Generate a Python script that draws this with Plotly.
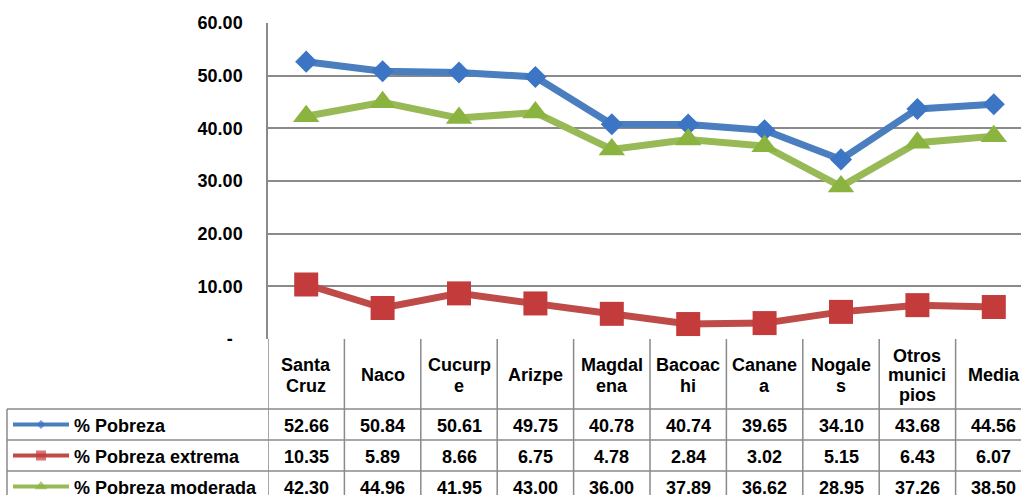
import plotly.graph_objects as go

# ---------------- data ----------------
categories = ["Santa Cruz", "Naco", "Cucurpe", "Arizpe", "Magdalena", "Bacoachi",
              "Cananea", "Nogales", "Otros municipios", "Media"]
header_lines = [["Santa", "Cruz"], ["Naco"], ["Cucurp", "e"], ["Arizpe"], ["Magdal", "ena"],
                ["Bacoac", "hi"], ["Canane", "a"], ["Nogale", "s"], ["Otros", "munici", "pios"],
                ["Media"]]
pobreza = [52.66, 50.84, 50.61, 49.75, 40.78, 40.74, 39.65, 34.10, 43.68, 44.56]
pobreza_extrema = [10.35, 5.89, 8.66, 6.75, 4.78, 2.84, 3.02, 5.15, 6.43, 6.07]
pobreza_moderada = [42.30, 44.96, 41.95, 43.00, 36.00, 37.89, 36.62, 28.95, 37.26, 38.50]
series_names = ["% Pobreza", "% Pobreza extrema", "% Pobreza moderada"]
y_tickvals = [0, 10, 20, 30, 40, 50, 60]
y_ticktext = ["-\u00a0\u00a0", "10.00", "20.00", "30.00", "40.00", "50.00", "60.00"]

# ---------------- layout geometry (pixels) ----------------
W, H = 1021, 495
PLOT_L = 268
PLOT_TOP, PLOT_BOT = 23, 339
COL_W = 76.4
ROW_TOPS = [409, 440, 471, 502]
HEADER_C = 375
LEG_L = 7

FONT = "Liberation Sans, Arial, sans-serif"
GRID = "#8a8a8a"

def py(p):  # pixel y -> paper y
    return (H - p) / H

series = [pobreza, pobreza_extrema, pobreza_moderada]
line_colors = ["#4A7EBE", "#BE4B48", "#98BA56"]
marker_colors = ["#3B75C4", "#C33B3B", "#8BB33F"]
symbols = ["diamond", "square", "triangle-up"]
sizes = [17, 24, 23]
key_sizes = [7, 10, 11]

fig = go.Figure()

for vals, name, lc, mc, sym, sz in zip(series, series_names, line_colors, marker_colors, symbols, sizes):
    fig.add_trace(go.Scatter(
        x=categories, y=vals, name=name, mode="lines+markers",
        line=dict(color=lc, width=7),
        marker=dict(symbol=sym, size=sz, color=mc, line=dict(width=0)),
        showlegend=False, cliponaxis=False, xaxis="x", yaxis="y"))

x_end = -0.5 + (W - PLOT_L) / COL_W

# legend keys in the table (pixel overlay axes)
for i, (name, lc, mc, sym, ks) in enumerate(zip(series_names, line_colors, marker_colors, symbols, key_sizes)):
    yc = (ROW_TOPS[i] + ROW_TOPS[i + 1]) / 2
    fig.add_trace(go.Scatter(
        x=[13, 41, 69], y=[yc, yc, yc], mode="lines+markers",
        line=dict(color=lc, width=4),
        marker=dict(symbol=sym, size=[0, ks, 0], color=mc, line=dict(width=0)),
        showlegend=False, hoverinfo="skip", xaxis="x2", yaxis="y2"))

shapes = []
annotations = []

# table vertical lines at category boundaries
for i in range(len(categories) + 1):
    shapes.append(dict(type="line", xref="x", yref="paper", x0=i - 0.5, x1=i - 0.5,
                       y0=py(PLOT_BOT), y1=0, line=dict(color=GRID, width=1.5)))
# legend column left border
shapes.append(dict(type="line", xref="paper", yref="paper", x0=LEG_L / W, x1=LEG_L / W,
                   y0=py(ROW_TOPS[0]), y1=0, line=dict(color=GRID, width=1.5)))
# horizontal row lines
for r in ROW_TOPS[:3]:
    shapes.append(dict(type="line", xref="paper", yref="paper", x0=LEG_L / W, x1=1,
                       y0=py(r), y1=py(r), line=dict(color=GRID, width=1.5)))

tfont = dict(family=FONT, size=18, color="#000000")
# header text
for i, lines in enumerate(header_lines):
    n = len(lines)
    sp = 21 if n == 2 else 19.5
    for k, t in enumerate(lines):
        yc = HEADER_C + (k - (n - 1) / 2) * sp
        annotations.append(dict(x=i, y=py(yc), xref="x", yref="paper", text="<b>%s</b>" % t,
                                showarrow=False, font=tfont, xanchor="center", yanchor="middle"))
# value cells and legend labels
for r, (vals, name) in enumerate(zip(series, series_names)):
    yc = (ROW_TOPS[r] + ROW_TOPS[r + 1]) / 2
    for i, v in enumerate(vals):
        annotations.append(dict(x=i, y=py(yc + 1), xref="x", yref="paper", text="<b>%.2f</b>" % v,
                                showarrow=False, font=tfont, xanchor="center", yanchor="middle"))
    annotations.append(dict(x=72 / W, y=py(yc + 1), xref="paper", yref="paper", text="<b>%s</b>" % name,
                            showarrow=False, font=tfont, xanchor="left", yanchor="middle"))

fig.update_layout(
    template="none",
    width=W, height=H,
    margin=dict(l=0, r=0, t=0, b=0, pad=0, autoexpand=False),
    paper_bgcolor="white", plot_bgcolor="rgba(0,0,0,0)",
    xaxis=dict(domain=[PLOT_L / W, 1], range=[-0.5, x_end], showgrid=False, zeroline=False,
               showticklabels=False, ticks="", showline=False, anchor="y", fixedrange=True,
               automargin=False),
    yaxis=dict(domain=[py(PLOT_BOT), py(PLOT_TOP)], range=[0, 60], tickvals=y_tickvals,
               ticktext=["<b>%s</b>" % t for t in y_ticktext], tickfont=tfont,
               showgrid=True, gridcolor=GRID, gridwidth=1.5, zeroline=False,
               showline=True, linecolor=GRID, linewidth=1.5, ticks="", ticklabelstandoff=20,
               anchor="x", fixedrange=True, automargin=False),
    xaxis2=dict(domain=[0, 1], range=[0, W], visible=False, anchor="y2", fixedrange=True,
                automargin=False),
    yaxis2=dict(domain=[0, 1], range=[H, 0], visible=False, anchor="x2", fixedrange=True,
                automargin=False),
    shapes=shapes, annotations=annotations, showlegend=False,
)

fig.write_html("out.html", config={"displayModeBar": False},
               post_script="document.body.style.margin='0';document.body.style.overflow='hidden';")
